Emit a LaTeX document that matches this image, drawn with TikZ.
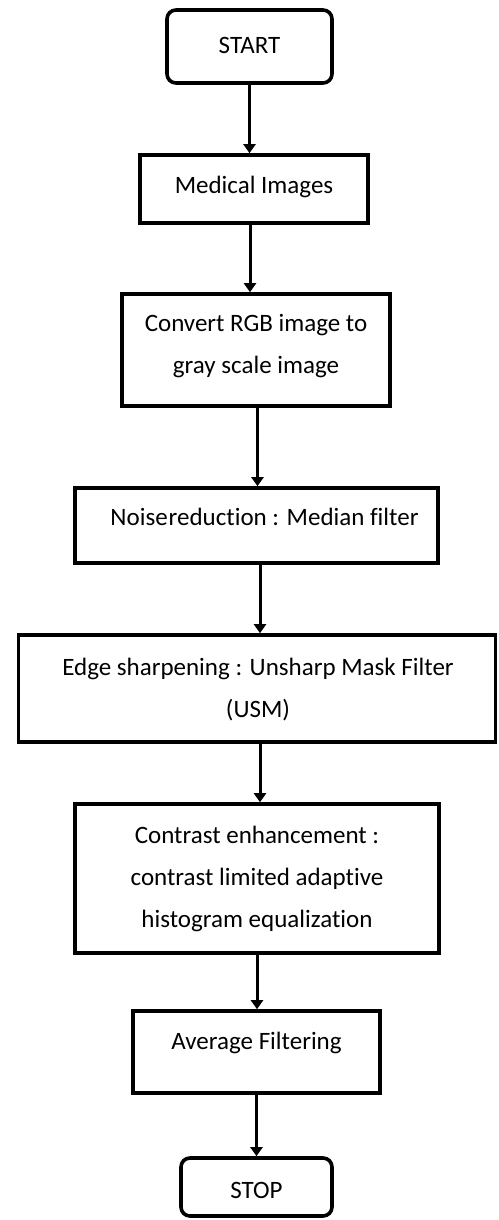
\documentclass[tikz,border=0pt]{standalone}
\usepackage{fontspec}
\setmainfont[Ligatures=NoCommon]{Carlito}
\usetikzlibrary{arrows.meta}

\tikzset{
  stepbox/.style={draw=black, line width=3.6pt, inner sep=0pt, fill=white},
  termbox/.style={stepbox, rounded corners=9pt},
  lbl/.style={font=\fontsize{25}{42}\selectfont, align=center, text=black, inner sep=0pt},
  flow/.style={line width=3pt, -{Triangle[width=12pt,length=9pt]}}
}

\begin{document}
\begin{tikzpicture}[x=1pt, y=-1pt]
  \useasboundingbox (0,0) rectangle (498,1220);

  % process boxes
  \node[termbox, minimum width=165pt, minimum height=73pt] (start) at (249.5,46.5) {};
  \node[stepbox, minimum width=228pt, minimum height=68pt] (med)   at (254,189)    {};
  \node[stepbox, minimum width=268pt, minimum height=112pt] (conv) at (256,350)    {};
  \node[stepbox, minimum width=363pt, minimum height=75pt] (noise) at (256.5,525.5) {};
  \node[stepbox, minimum width=477pt, minimum height=107pt] (edge) at (257,688.5) {};
  \node[stepbox, minimum width=364pt, minimum height=149pt] (contr) at (257,878.5) {};
  \node[stepbox, minimum width=247pt, minimum height=82pt] (avg)   at (256.5,1052) {};
  \node[termbox, minimum width=151pt, minimum height=58pt] (stop)  at (256.5,1187) {};

  % labels (yshift is in page direction: positive moves up)
  \node[lbl] at ([yshift=1.5pt]start.center) {START};
  \node[lbl] at ([yshift=2pt]med.center) {Medical Images};
  \node[lbl] at ([yshift=3.5pt]conv.center) {Convert RGB image to\\gray scale image};
  \node[lbl] at ([xshift=8pt,yshift=8.5pt]noise.center) {Noise\hspace{1pt}reduction : Median filter};
  \node[lbl] at ([xshift=1pt,yshift=-1pt]edge.center) {Edge sharpening : Unsharp Mask Filter\\(USM)};
  \node[lbl] at (contr.center) {Contrast enhancement :\\contrast limited adaptive\\histogram equalization};
  \node[lbl] at ([yshift=9pt]avg.center) {Average Filtering};
  \node[lbl] at ([yshift=-3pt]stop.center) {STOP};

  % connectors
  \draw[flow] (start.south) -- (start.south |- med.north);
  \draw[flow] ([xshift=-4pt]med.south) -- ([xshift=-4pt]med.south |- conv.north);
  \draw[flow] ([xshift=1.5pt]conv.south) -- ([xshift=1.5pt]conv.south |- noise.north);
  \draw[flow] ([xshift=3.5pt]noise.south) -- ([xshift=3.5pt]noise.south |- edge.north);
  \draw[flow] ([xshift=3pt]edge.south) -- ([xshift=3pt]edge.south |- contr.north);
  \draw[flow] (contr.south) -- (contr.south |- avg.north);
  \draw[flow] (avg.south) -- (avg.south |- stop.north);
\end{tikzpicture}
\end{document}
